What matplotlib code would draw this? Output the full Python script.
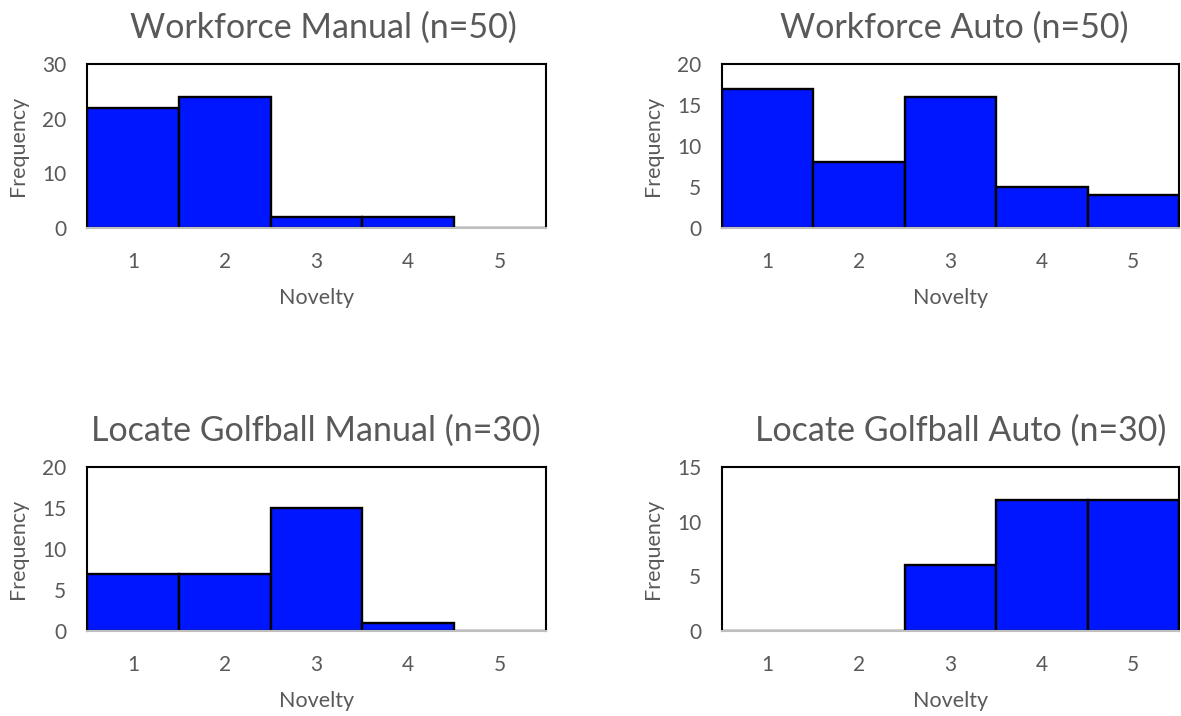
import matplotlib
matplotlib.use("Agg")
import matplotlib.pyplot as plt
import numpy as np

plt.rcParams['font.family'] = ['Lato', 'DejaVu Sans']

categories = [1, 2, 3, 4, 5]
titles = ["Workforce Manual (n=50)", "Workforce Auto (n=50)",
          "Locate Golfball Manual (n=30)", "Locate Golfball Auto (n=30)"]
wf_manual = [22, 24, 2, 2, 0]
wf_auto = [17, 8, 16, 5, 4]
golf_manual = [7, 7, 15, 1, 0]
golf_auto = [0, 0, 6, 12, 12]
series = [wf_manual, wf_auto, golf_manual, golf_auto]
ymax = [30, 20, 20, 15]
ystep = [10, 5, 5, 5]

W, H = 1181, 716
fig = plt.figure(figsize=(W / 100, H / 100), dpi=100)

# axes boxes in pixels: left, top, right, bottom
boxes = [(87, 64, 546, 228), (722, 64, 1179, 228),
         (87, 467, 546, 631), (722, 467, 1179, 631)]
title_cx = [323, 954, 316, 961]

text_color = '#595959'
bar_color = '#0016FF'

for i, (l, t, r, b) in enumerate(boxes):
    ax = fig.add_axes([l / W, 1 - b / H, (r - l) / W, (b - t) / H])
    vals = series[i]
    ax.bar(categories, vals, width=1.0, color=bar_color, edgecolor='black',
           linewidth=1.7, zorder=2)
    ax.set_xlim(0.5, 5.5)
    ax.set_ylim(0, ymax[i])
    ax.set_yticks(np.arange(0, ymax[i] + 1, ystep[i]))
    ax.set_xticks(categories)
    ax.tick_params(axis='both', length=0, labelsize=15, colors=text_color)
    ax.tick_params(axis='x', pad=17)
    ax.tick_params(axis='y', pad=15)
    for side in ['left', 'top', 'right']:
        ax.spines[side].set_color('black')
        ax.spines[side].set_linewidth(1.5)
    ax.spines['bottom'].set_color('#BFBFBF')
    ax.spines['bottom'].set_linewidth(1.5)
    ax.spines['bottom'].set_zorder(3)
    ax.set_xlabel('Novelty', fontsize=15.5, color=text_color, labelpad=12)
    ax.set_ylabel('Frequency', fontsize=15.5, color=text_color, labelpad=10)
    fig.text(title_cx[i] / W, 1 - (t - 26) / H, titles[i], ha='center',
             va='baseline', fontsize=24.5, color=text_color)

fig.savefig('out.png', dpi=100)
